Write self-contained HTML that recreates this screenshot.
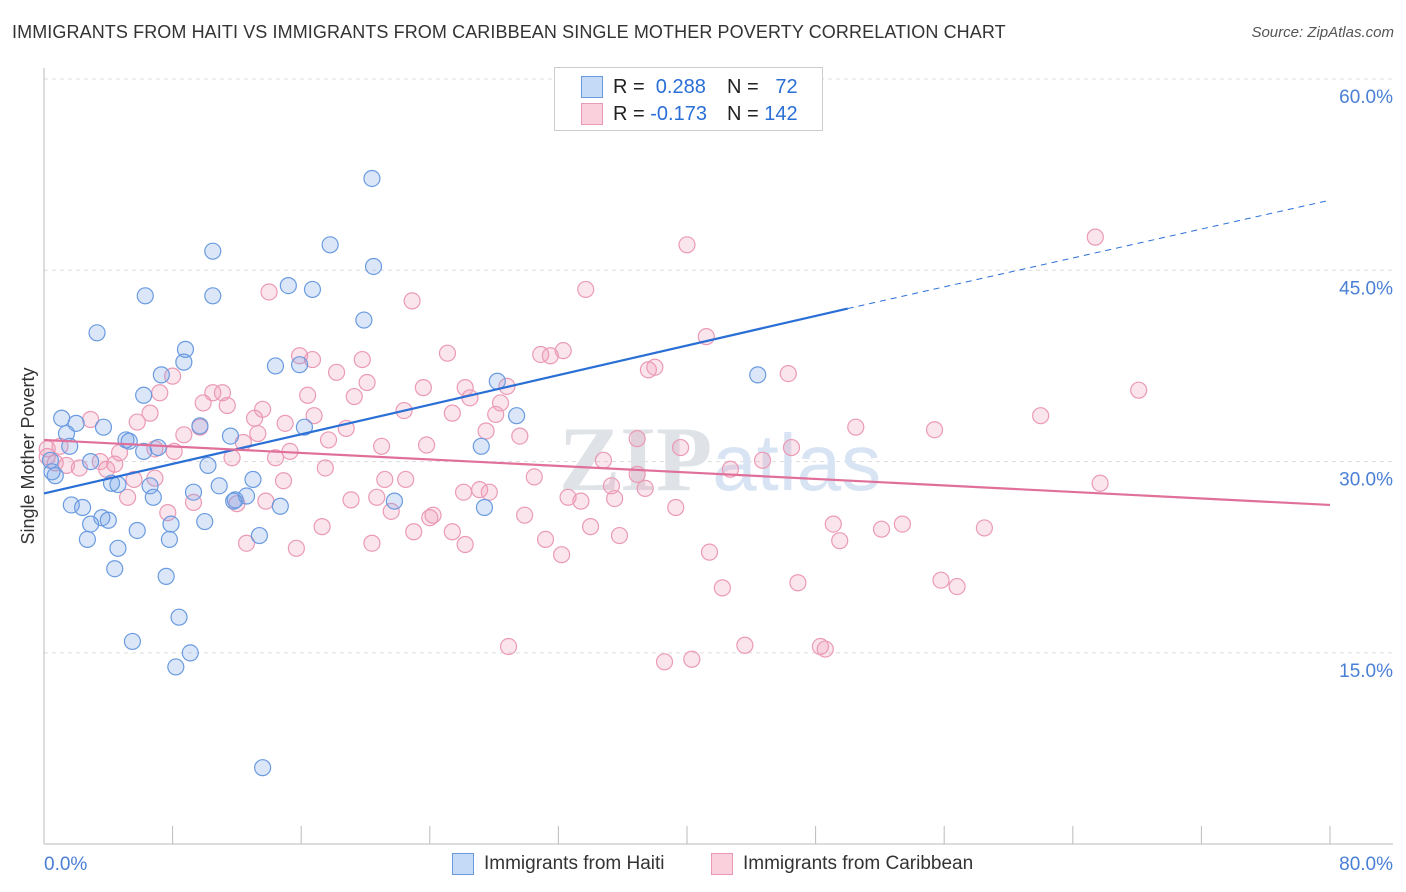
<!DOCTYPE html>
<html><head><meta charset="utf-8">
<style>
body{margin:0;background:#fff;font-family:"Liberation Sans",sans-serif;}
#wrap{position:relative;width:1406px;height:892px;overflow:hidden;}
.title{position:absolute;left:12px;top:22px;font-size:18px;color:#333;letter-spacing:0.1px}
.src{position:absolute;right:12px;top:24px;font-size:15px;color:#555;font-style:italic}
</style></head>
<body>
<div id="wrap">
<div class="title">IMMIGRANTS FROM HAITI VS IMMIGRANTS FROM CARIBBEAN SINGLE MOTHER POVERTY CORRELATION CHART</div>
<div class="src">Source: ZipAtlas.com</div>
<svg id="svg" width="1406" height="892" style="position:absolute;left:0;top:0"></svg>
</div>
<script>
const xTicks=[0,80];
const yTicks=[15,30,45,60];
const haitiX=[20.4,17.8,10.5,20.5,15.2,16.7,6.3,10.5,19.9,3.3,8.8,8.7,14.4,15.9,7.3,28.2,44.4,6.2,29.4,1.1,2.0,3.7,9.7,16.2,1.4,11.6,5.1,5.3,27.2,1.6,7.1,6.2,0.4,2.9,10.2,0.7,0.5,4.6,6.6,10.9,4.2,13.0,9.3,6.8,11.9,12.6,1.7,2.4,21.8,14.7,27.4,3.6,4.0,10.0,7.9,2.9,5.8,13.4,2.7,7.8,4.6,4.4,7.6,8.4,5.5,9.1,8.2,13.6,11.8];
const haitiY=[52.2,47.0,46.5,45.3,43.8,43.5,43.0,43.0,41.1,40.1,38.8,37.8,37.5,37.6,36.8,36.3,36.8,35.2,33.6,33.4,33.0,32.7,32.8,32.7,32.2,32.0,31.7,31.6,31.2,31.2,31.1,30.8,30.1,30.0,29.7,28.9,29.2,28.2,28.1,28.1,28.3,28.6,27.6,27.2,27.0,27.3,26.6,26.4,26.9,26.5,26.4,25.6,25.4,25.3,25.1,25.1,24.6,24.2,23.9,23.9,23.2,21.6,21.0,17.8,15.9,15.0,13.9,6.0,26.9];
const caribX=[65.4,40.0,33.7,14.0,22.9,41.2,25.1,32.3,30.9,31.5,15.9,16.7,19.8,38.0,37.6,46.3,18.2,8.0,20.1,23.6,26.2,28.8,68.1,7.2,10.5,11.1,16.4,19.3,26.5,28.4,9.9,11.4,13.6,6.6,22.4,16.8,25.4,28.1,13.1,2.9,62.0,5.8,15.0,9.7,18.8,50.5,55.4,27.5,13.3,8.7,29.6,36.9,17.7,12.4,23.8,21.0,39.6,46.5,1.0,0.2,6.9,8.1,15.3,4.7,0.2,14.4,11.7,44.7,34.8,3.5,4.4,1.4,2.2,0.7,17.5,3.9,42.7,36.9,6.9,21.2,22.5,14.9,35.3,30.5,5.6,37.4,65.7,26.1,27.7,27.1,5.2,32.6,20.7,19.1,35.5,13.8,9.3,33.4,12.0,21.6,39.3,7.7,29.9,24.2,24.0,49.1,53.4,52.1,58.5,34.0,17.3,25.4,23.0,35.8,31.2,49.5,12.6,20.4,26.2,15.7,32.2,41.4,55.8,56.8,46.9,42.2,28.9,43.6,48.3,48.6,38.6,40.3];
const caribY=[47.6,47.0,43.5,43.3,42.6,39.8,38.5,38.7,38.4,38.3,38.3,38.0,38.0,37.4,37.2,36.9,37.0,36.7,36.2,35.8,35.8,35.9,35.6,35.4,35.4,35.4,35.2,35.1,35.0,34.6,34.6,34.4,34.1,33.8,34.0,33.6,33.8,33.7,33.4,33.3,33.6,33.1,33.0,32.7,32.6,32.7,32.5,32.4,32.2,32.1,32.0,31.8,31.7,31.5,31.3,31.2,31.1,31.1,31.2,31.0,31.0,30.8,30.8,30.7,30.4,30.3,30.3,30.1,30.1,30.0,29.8,29.7,29.5,29.9,29.5,29.4,29.4,29.0,28.7,28.6,28.6,28.5,28.1,28.8,28.6,27.9,28.3,27.6,27.6,27.8,27.2,27.2,27.2,27.0,27.1,26.9,26.8,26.9,26.7,26.1,26.4,26.0,25.8,25.8,25.6,25.1,25.1,24.7,24.8,24.9,24.9,24.5,24.5,24.2,23.9,23.8,23.6,23.6,23.5,23.2,22.7,22.9,20.7,20.2,20.5,20.1,15.5,15.6,15.5,15.3,14.3,14.5];
const haitiTrend=[27.5,42.0,50.5];   // y at x=0, x=50, x=80
const caribTrend=[31.7,26.6];       // y at x=0, x=80

const NS="http://www.w3.org/2000/svg";
const svg=document.getElementById('svg');
const X=v=>44+v*1286/80;
const Y=v=>79+(60-v)*(191.3/15);
function el(t,a,p){const e=document.createElementNS(NS,t);for(const k in a)e.setAttribute(k,a[k]);(p||svg).appendChild(e);return e;}

// grid
yTicks.forEach(t=>{
 const g=el('line',{x1:44,x2:1393,y1:Y(t),y2:Y(t),stroke:'#ddd','stroke-dasharray':'4,4'});
 
 
 const tx=el('text',{x:1393,y:Y(t)+24,'text-anchor':'end','font-size':19,fill:'#4a7fd6','font-family':'Liberation Sans'});
 tx.textContent=t.toFixed(1)+'%';
 
 
});
// axes
const ax=el('line',{x1:44,x2:1393,y1:844,y2:844,stroke:'#bbb'});


const ay=el('line',{x1:44,x2:44,y1:68,y2:844,stroke:'#bbb'});


for(let i=0;i<=10;i++){
 const tk=el('line',{x1:X(i*8),x2:X(i*8),y1:826,y2:844,stroke:'#bbb'});
 
 
}
xTicks.forEach((t,i)=>{
 const tx=el('text',{x:i==0?44:1393,y:870,'text-anchor':i==0?'start':'end','font-size':19,fill:'#4a7fd6','font-family':'Liberation Sans'});
 tx.textContent=t.toFixed(1)+'%';
 
 
});
const yt=el('text',{x:34,y:456,transform:'rotate(-90 34 456)','text-anchor':'middle','font-size':18,fill:'#333','font-family':'Liberation Sans'});
yt.textContent='Single Mother Poverty';


// watermark
const wm=el('text',{x:720,y:490,'text-anchor':'middle','font-size':92,fill:'#e3e6ea','font-family':'Liberation Serif'});
wm.innerHTML='<tspan font-weight="bold" fill="#dfe2e6">ZIP</tspan><tspan font-family="Liberation Sans" fill="#d8e4f3" font-size="80">atlas</tspan>';


// points
caribX.forEach((x,i)=>{
 const c=el('circle',{cx:X(x),cy:Y(caribY[i]),r:8,fill:'rgba(240,150,180,0.25)',stroke:'#eb9ab5','stroke-width':1.2});
 
 
});
haitiX.forEach((x,i)=>{
 const c=el('circle',{cx:X(x),cy:Y(haitiY[i]),r:8,fill:'rgba(110,160,230,0.25)',stroke:'#6a9be0','stroke-width':1.2});
 
 
});
// trends
const t1=el('line',{x1:X(0),y1:Y(haitiTrend[0]),x2:X(50),y2:Y(haitiTrend[1]),stroke:'#2a6fd6','stroke-width':2.2});


const t2=el('line',{x1:X(50),y1:Y(haitiTrend[1]),x2:X(80),y2:Y(haitiTrend[2]),stroke:'#2a6fd6','stroke-width':1,'stroke-dasharray':'6,5'});


const t3=el('line',{x1:X(0),y1:Y(caribTrend[0]),x2:X(80),y2:Y(caribTrend[1]),stroke:'#e0709a','stroke-width':2.2});


</script>
<div style="position:absolute;left:554px;top:67px;width:267px;height:62px;border:1px solid #ccc;background:#fff;font-size:20px;color:#222">
 <div style="position:absolute;left:26px;top:8px;width:20px;height:20px;background:#c5daf6;border:1px solid #6a9be0"></div>
 <div style="position:absolute;left:58px;top:8px">R = <span style="color:#2a6fd6">&nbsp;0.288</span></div>
 <div style="position:absolute;left:172px;top:8px">N = <span style="color:#2a6fd6">&nbsp;&nbsp;72</span></div>
 <div style="position:absolute;left:26px;top:35px;width:20px;height:20px;background:#fbd0dd;border:1px solid #eb9ab5"></div>
 <div style="position:absolute;left:58px;top:35px">R = <span style="color:#2a6fd6">-0.173</span></div>
 <div style="position:absolute;left:172px;top:35px">N = <span style="color:#2a6fd6">142</span></div>
</div>
<div style="position:absolute;left:452px;top:853px;font-size:19px;color:#333">
 <span style="position:absolute;left:0;top:0;width:20px;height:20px;background:#c5daf6;border:1px solid #6a9be0"></span>
 <span style="position:absolute;left:32px;top:0;white-space:nowrap">Immigrants from Haiti</span>
 <span style="position:absolute;left:259px;top:0;width:20px;height:20px;background:#fbd0dd;border:1px solid #eb9ab5"></span>
 <span style="position:absolute;left:291px;top:0;white-space:nowrap">Immigrants from Caribbean</span>
</div>
</body></html>
